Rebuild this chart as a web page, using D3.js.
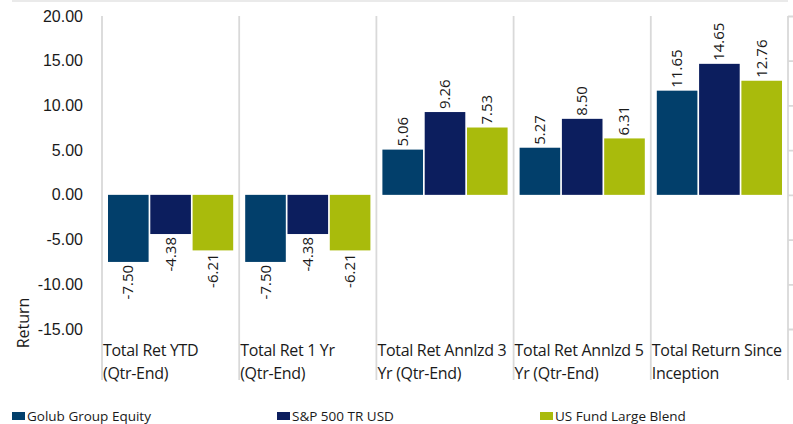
<!DOCTYPE html>
<html>
<head>
<meta charset="utf-8">
<script src="https://cdn.jsdelivr.net/npm/d3@7"></script>
<style>
  body { margin: 0; background: #fff; }
  svg { display: block; font-family: "Open Sans", "Noto Sans", sans-serif; }
</style>
</head>
<body>
<div id="chart"></div>
<script>
// Daten
const categories = [
  ["Total Ret YTD", "(Qtr-End)"],
  ["Total Ret 1 Yr", "(Qtr-End)"],
  ["Total Ret Annlzd 3", "Yr (Qtr-End)"],
  ["Total Ret Annlzd 5", "Yr (Qtr-End)"],
  ["Total Return Since", "Inception"]
];
const seriesNames = ["Golub Group Equity", "S&P 500 TR USD", "US Fund Large Blend"];
const golub = [-7.50, -7.50, 5.06, 5.27, 11.65];
const sp500 = [-4.38, -4.38, 9.26, 8.50, 14.65];
const usFund = [-6.21, -6.21, 7.53, 6.31, 12.76];
const yTicks = [20, 15, 10, 5, 0, -5, -10, -15];
const colors = ["#023f6b", "#0c1e5e", "#a9bb0c"];

const seriesValues = [golub, sp500, usFund];
const W = 793, H = 424;
const plot = { left: 102, right: 788, top: 16, bottom: 329 };

// Zahlen mit normalem Bindestrich statt Unicode-Minus
const fmt = v => d3.format(".2f")(v).replace("\u2212", "-");

const svg = d3.select("#chart").append("svg")
  .attr("width", W).attr("height", H);

// Rahmen oben
svg.append("line")
  .attr("x1", 12).attr("x2", 788).attr("y1", 1).attr("y2", 1)
  .attr("stroke", "#e3e3e3").attr("stroke-width", 1.5);

const y = d3.scaleLinear().domain([-15, 20]).range([plot.bottom, plot.top]);
const x0 = d3.scaleBand().domain(d3.range(categories.length))
  .range([plot.left, plot.right]);
const x1 = d3.scaleBand().domain(d3.range(seriesNames.length))
  .range([6, x0.bandwidth() - 6]).paddingInner(0.04);

// Gitterlinien + Ticks
const yAxis = d3.axisLeft(y).tickValues(yTicks)
  .tickSize(-(plot.right - plot.left) - 14)
  .tickFormat(fmt);
const gy = svg.append("g")
  .attr("transform", `translate(${plot.right},0)`)
  .call(yAxis);
gy.select(".domain").remove();
gy.selectAll(".tick line")
  .attr("stroke", "#d9d9d9").attr("stroke-width", 1.8);
gy.selectAll(".tick text")
  .attr("x", -(plot.right - plot.left) - 19)
  .attr("font-size", 16).attr("fill", "#1a1a1a");

// Vertikale Trennlinien
svg.append("g").selectAll("line")
  .data(d3.range(categories.length + 1))
  .join("line")
  .attr("x1", i => i < categories.length ? x0(i) : plot.right)
  .attr("x2", i => i < categories.length ? x0(i) : plot.right)
  .attr("y1", plot.top).attr("y2", 380)
  .attr("stroke", "#d9d9d9").attr("stroke-width", 1.8);

// Balken
const groups = svg.append("g").selectAll("g")
  .data(categories)
  .join("g")
  .attr("transform", (d, i) => `translate(${x0(i)},0)`);

const cells = groups.selectAll("g")
  .data((d, i) => seriesValues.map((s, j) => ({ v: s[i], j })))
  .join("g");

cells.append("rect")
  .attr("x", d => x1(d.j))
  .attr("width", x1.bandwidth())
  .attr("y", d => y(Math.max(0, d.v)))
  .attr("height", d => Math.abs(y(d.v) - y(0)))
  .attr("fill", d => colors[d.j]);

cells.append("text")
  .attr("transform", d => {
    const cx = x1(d.j) + x1.bandwidth() / 2 + 5;
    const cy = d.v >= 0 ? y(d.v) - 3 : y(d.v) + 3;
    return `translate(${cx},${cy}) rotate(-90)`;
  })
  .attr("text-anchor", d => d.v >= 0 ? "start" : "end")
  .attr("font-size", 15).attr("fill", "#1a1a1a")
  .text(d => fmt(d.v));

// Kategorienbeschriftung
groups.append("text")
  .attr("font-size", 16).attr("fill", "#1a1a1a")
  .attr("letter-spacing", -0.3)
  .selectAll("tspan")
  .data(d => d)
  .join("tspan")
  .attr("x", 1)
  .attr("y", (d, k) => 356 + k * 23)
  .text(d => d);

// Achsentitel
svg.append("text")
  .attr("transform", "translate(29,323) rotate(-90)")
  .attr("text-anchor", "middle")
  .attr("font-size", 16).attr("fill", "#1a1a1a")
  .text("Return");

// Legende
const legendX = [12, 277, 540];
const leg = svg.append("g").selectAll("g")
  .data(seriesNames)
  .join("g")
  .attr("transform", (d, i) => `translate(${legendX[i]},410)`);
leg.append("rect").attr("width", 13).attr("height", 8).attr("y", 2)
  .attr("fill", (d, i) => colors[i]);
leg.append("text").attr("x", 15).attr("y", 11)
  .attr("font-size", 13.5).attr("fill", "#1a1a1a")
  .text(d => d);
</script>
</body>
</html>
